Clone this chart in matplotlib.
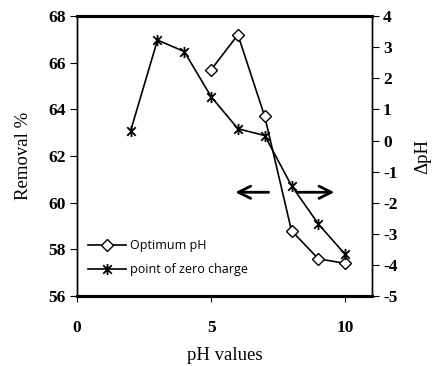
import matplotlib
matplotlib.use("Agg")
import matplotlib.pyplot as plt
from matplotlib.path import Path

# data
ph_opt = [5, 6, 7, 8, 9, 10]
removal = [65.7, 67.2, 63.7, 58.8, 57.6, 57.4]
ph_pzc = [2, 3, 4, 5, 6, 7, 8, 9, 10]
delta_ph = [0.32, 3.23, 2.86, 1.41, 0.38, 0.16, -1.45, -2.68, -3.66]

x_ticks = [0, 5, 10]
left_ticks = [56, 58, 60, 62, 64, 66, 68]
right_ticks = [-5, -4, -3, -2, -1, 0, 1, 2, 3, 4]

# excel style star marker (x with vertical bar)
star = Path([(-1, -1), (1, 1), (-1, 1), (1, -1), (0, -1.3), (0, 1.3)],
            [Path.MOVETO, Path.LINETO, Path.MOVETO, Path.LINETO, Path.MOVETO, Path.LINETO])

tick_font = {'family': 'Liberation Serif', 'weight': 'bold', 'size': 12.5}

fig = plt.figure(figsize=(4.33, 3.66), dpi=100)
ax = fig.add_axes([0.178, 0.191, 0.681, 0.765])
ax2 = ax.twinx()

l1, = ax.plot(ph_opt, removal, color='black', lw=1.2, marker='D', ms=6,
              mfc='white', mec='black', mew=1.0, label='Optimum pH')
l2, = ax2.plot(ph_pzc, delta_ph, color='black', lw=1.2, marker=star, ms=8,
               mew=1.3, label='point of zero charge')

ax.set_xlim(0, 11)
ax.set_ylim(56, 68)
ax2.set_ylim(-5, 4)
ax.set_xticks(x_ticks)
ax.set_yticks(left_ticks)
ax2.set_yticks(right_ticks)
ax.set_xticklabels([str(v) for v in x_ticks], fontdict=tick_font)
ax.set_yticklabels([str(v) for v in left_ticks], fontdict=tick_font)
ax2.set_yticklabels([str(v) for v in right_ticks], fontdict=tick_font)

ax.tick_params(axis='x', direction='out', length=4, pad=13)
ax.tick_params(axis='y', direction='out', length=5, pad=3)
ax2.tick_params(axis='y', direction='out', length=5, pad=3)

for a in (ax, ax2):
    a.spines['top'].set_linewidth(2.2)
    a.spines['bottom'].set_linewidth(2.2)
    a.spines['left'].set_linewidth(1.0)
    a.spines['right'].set_linewidth(1.0)

ax.set_xlabel('pH values', family='Liberation Serif', fontsize=13.5, labelpad=8)
ax.set_ylabel('Removal %', family='Liberation Serif', fontsize=13.5, labelpad=12)
ax2.set_ylabel('\u0394pH', family='Liberation Serif', fontsize=13.5, labelpad=12)

# arrows pointing at each axis
ax.annotate('', xy=(5.8, 60.45), xytext=(7.25, 60.45),
            arrowprops=dict(arrowstyle='->', lw=2, color='black', mutation_scale=22))
ax.annotate('', xy=(9.7, 60.45), xytext=(8.1, 60.45),
            arrowprops=dict(arrowstyle='->', lw=2, color='black', mutation_scale=22))

ax.legend(handles=[l1, l2], loc='lower left', bbox_to_anchor=(0.0, 0.03),
          frameon=False, prop={'family': 'Open Sans', 'size': 9},
          handlelength=3, handletextpad=0.3, labelspacing=0.9)

fig.savefig('out.png', dpi=100)
